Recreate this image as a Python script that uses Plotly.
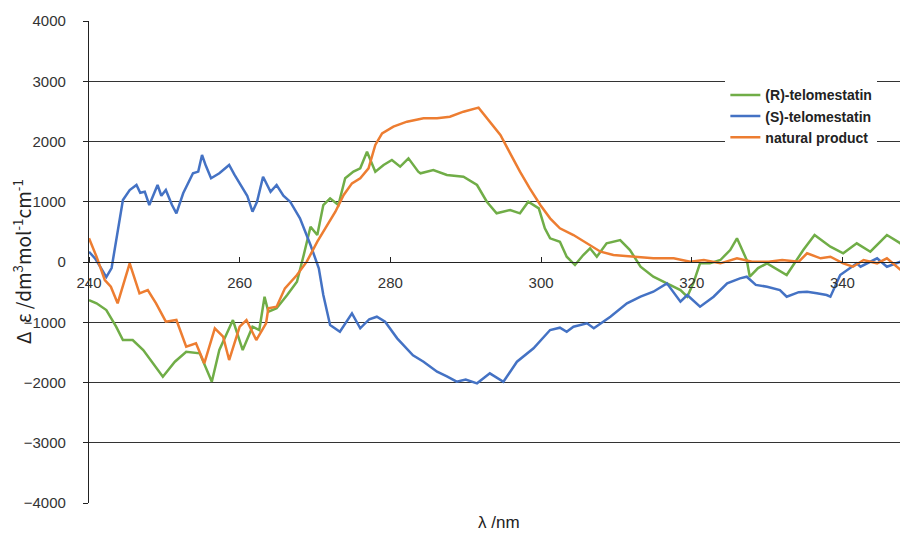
import plotly.graph_objects as go

# (S)-telomestatin
s_x = [240.0, 240.8, 241.5, 242.3, 243.0, 243.6, 244.5, 245.4, 246.3, 246.8, 247.4, 248.0, 249.1, 249.6,
       250.2, 251.0, 251.6, 252.5, 253.8, 254.5, 255.0, 255.5, 256.2, 257.3, 258.6, 259.3, 260.0, 261.0,
       261.7, 262.3, 263.1, 264.1, 264.9, 265.8, 266.7, 268.0, 269.4, 270.5, 271.1, 272.0, 273.3, 274.9,
       276.0, 277.2, 278.2, 279.3, 280.9, 282.2, 283.0, 284.4, 286.2, 287.5, 288.8, 290.0, 291.5, 293.2,
       295.0, 296.8, 299.0, 301.2, 302.5, 303.4, 304.3, 306.1, 307.0, 309.2, 311.4, 313.2, 314.9, 316.7,
       318.5, 319.4, 321.1, 322.9, 324.7, 326.4, 327.3, 328.5, 330.0, 331.7, 332.6, 334.2, 335.3, 336.6,
       337.9, 338.4, 339.7, 341.9, 342.4, 344.6, 345.9, 347.7, 348.5]
s_y = [170, 60, -80, -250, -100, 365, 1030, 1195, 1280, 1150, 1167, 946, 1278, 1100,
       1195, 950, 808, 1140, 1472, 1500, 1776, 1600, 1390, 1472, 1610, 1450, 1306, 1100,
       835, 1000, 1416, 1167, 1278, 1100, 1001, 725, 282, -105, -548, -1046, -1157, -852,
       -1100, -950, -908, -991, -1267, -1433, -1550, -1655, -1821, -1900, -1987, -1950, -2014, -1848,
       -1987, -1655, -1433, -1129, -1090, -1157, -1074, -1018, -1100, -908, -686, -576, -493, -354,
       -659, -548, -742, -576, -354, -271, -244, -380, -410, -465, -576, -500, -493, -520,
       -548, -576, -216, -22, -78, 61, -78, 5, -78]

# (R)-telomestatin
r_x = [240.0, 241.0, 242.3, 243.6, 244.5, 245.8, 247.2, 248.5, 249.8, 251.4, 252.9, 254.7, 256.3, 257.3,
       259.1, 260.4, 261.7, 262.6, 263.3, 263.8, 264.9, 266.3, 267.6, 268.5, 269.4, 270.3, 271.1, 272.0,
       273.1, 274.0, 275.1, 276.0, 276.9, 278.0, 279.1, 280.2, 281.3, 282.4, 283.7, 284.0, 285.7, 287.5,
       289.7, 291.5, 292.8, 294.1, 295.9, 297.2, 298.3, 299.7, 300.5, 301.2, 302.5, 303.4, 304.5, 305.6,
       306.5, 307.4, 308.7, 310.5, 311.8, 313.2, 314.9, 316.7, 318.5, 319.4, 320.2, 321.1, 322.4, 323.8,
       325.1, 326.0, 327.3, 327.7, 328.8, 330.0, 331.5, 332.6, 334.8, 336.3, 338.4, 340.1, 341.9, 343.7,
       345.9, 347.7, 348.5]
r_y = [-631, -686, -797, -1074, -1295, -1295, -1461, -1682, -1904, -1655, -1489, -1516, -1987, -1461,
       -963, -1461, -1074, -1129, -576, -825, -769, -548, -327, 116, 586, 448, 946, 1057,
       946, 1390, 1500, 1555, 1831, 1500, 1610, 1693, 1582, 1721, 1500, 1472, 1527, 1444,
       1416, 1278, 1001, 808, 863, 808, 1001, 891, 559, 393, 337, 88, -50, 116,
       227, 88, 310, 365, 199, -78, -244, -354, -465, -576, -354, -22, -22, 33,
       199, 393, 33, -244, -100, -22, -130, -216, 199, 448, 254, 144, 310, 171,
       448, 310, 88]

# natural product
n_x = [240.0, 241.0, 242.1, 242.9, 243.8, 245.4, 246.7, 247.8, 248.9, 250.2, 251.6, 252.9, 254.2, 255.3,
       256.7, 257.8, 258.6, 260.0, 260.9, 262.2, 263.5, 263.8, 264.9, 266.0, 267.6, 268.9, 270.3, 271.6,
       272.7, 273.8, 274.9, 276.0, 277.1, 278.0, 278.9, 280.4, 282.2, 284.4, 286.2, 287.9, 289.7, 291.7,
       293.2, 294.6, 295.9, 297.2, 298.5, 299.9, 301.2, 302.5, 304.3, 306.1, 307.9, 309.6, 312.3, 314.9,
       317.6, 319.8, 321.6, 323.8, 326.0, 328.0, 330.2, 332.0, 334.2, 335.3, 337.1, 338.4, 340.1, 341.4,
       342.8, 344.6, 345.9, 347.2, 348.5]
n_y = [393, 88, -299, -410, -686, -22, -520, -465, -686, -991, -963, -1406, -1350, -1682,
       -1101, -1240, -1627, -1074, -963, -1295, -1018, -769, -742, -437, -216, 5, 337, 614,
       835, 1112, 1306, 1390, 1555, 1942, 2136, 2246, 2329, 2385, 2385, 2412, 2495, 2562,
       2329, 2108, 1804, 1500, 1223, 946, 725, 559, 448, 310, 171, 116, 88, 61,
       61, 5, 33, -22, 61, 5, 5, 33, 5, 144, 61, 88, -22, -78,
       33, -22, 61, -78, -216]

x_ticks = [240, 260, 280, 300, 320, 340]
y_ticks = [-4000, -3000, -2000, -1000, 0, 1000, 2000, 3000, 4000]

FONT = "Liberation Sans, Arial, sans-serif"
JFONT = "Noto Sans CJK JP, Liberation Sans, sans-serif"
CLEAR = "rgba(0,0,0,0)"

fig = go.Figure()
fig.add_trace(go.Scatter(x=r_x, y=r_y, mode="lines", name="(R)-telomestatin",
                         line=dict(color="#70AD47", width=2.5)))
fig.add_trace(go.Scatter(x=s_x, y=s_y, mode="lines", name="(S)-telomestatin",
                         line=dict(color="#4472C4", width=2.5)))
fig.add_trace(go.Scatter(x=n_x, y=n_y, mode="lines", name="natural product",
                         line=dict(color="#ED7D31", width=2.5)))

# page body has an 8px margin, so the figure is drawn 8px in from the window edge
fig.update_layout(
    width=900, height=530,
    margin=dict(l=81, r=0, t=13, b=35),
    paper_bgcolor="white", plot_bgcolor="white",
    font=dict(family=FONT, size=12, color="#333"),
    showlegend=True,
    legend=dict(x=0.777, y=0.879, xanchor="left", yanchor="top",
                bgcolor="white", borderwidth=0, itemwidth=30,
                font=dict(family=FONT, size=14, color="#222", weight="bold"),
                tracegroupgap=0),
    xaxis=dict(range=[240, 348.7], tickvals=x_ticks, ticktext=[str(v) for v in x_ticks],
               showgrid=False, zeroline=False, showline=True, linecolor="#222", linewidth=1.3,
               ticks="outside", ticklen=7, tickcolor=CLEAR,
               minor=dict(tickvals=x_ticks, ticks="inside", ticklen=5, tickcolor="#222", showgrid=False),
               anchor="free", position=0.5, automargin=False,
               tickfont=dict(family=FONT, size=15, color="#333")),
    yaxis=dict(range=[-4000, 4000], tickvals=y_ticks, ticktext=[str(v).replace("-", "\u2212") for v in y_ticks],
               showgrid=True, gridcolor="#333", gridwidth=1.3,
               zeroline=True, zerolinecolor="#222", zerolinewidth=1.3,
               showline=True, linecolor="#222", linewidth=1.3,
               ticks="outside", ticklen=19, tickcolor=CLEAR, automargin=False,
               minor=dict(tickvals=y_ticks, ticks="outside", ticklen=5, tickcolor="#222", showgrid=False),
               tickfont=dict(family=FONT, size=15, color="#333")),
)

fig.add_annotation(xref="paper", yref="paper", x=0.5, y=0, yshift=-19,
                   text="\u03bb /nm", showarrow=False, yanchor="middle",
                   font=dict(family=FONT, size=17, color="#222"))
fig.add_annotation(xref="paper", yref="paper", x=0, xshift=-67, y=0.5,
                   text="\u0394\u00a0\u00a0\u03b5 /dm<sup>3</sup>mol<sup>-1</sup>cm<sup>-1</sup>",
                   showarrow=False, textangle=-90, xanchor="center", yanchor="middle",
                   font=dict(family=JFONT, size=19, color="#222"))

fig.write_html("out.html")
